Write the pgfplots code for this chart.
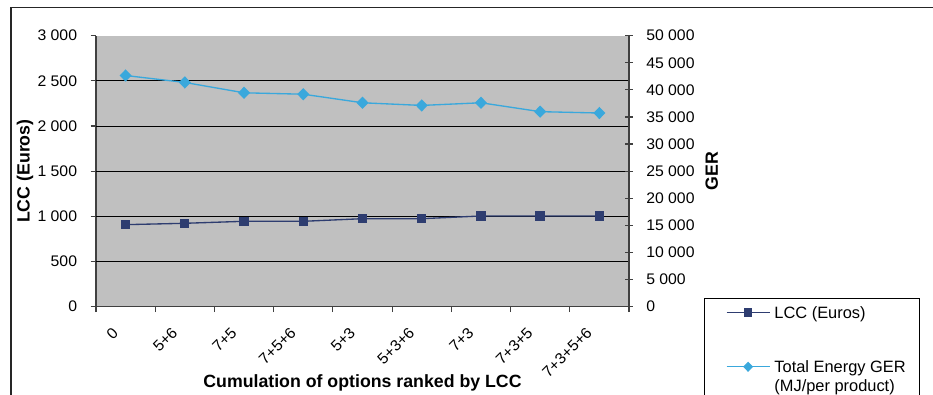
\documentclass[border=0pt]{standalone}
\usepackage{pgfplots}
\pgfplotsset{compat=1.18}
\usepackage{fontspec}
\setmainfont{Liberation Sans}
\newfontfamily\tickfont{Liberation Sans}[FakeStretch=1.03]
\definecolor{plotgray}{HTML}{C0C0C0}
\definecolor{lccblue}{HTML}{2E3D70}
\definecolor{gerblue}{HTML}{3AA8DC}
\definecolor{axgray}{HTML}{404040}
\pgfplotsset{
  lccstyle/.style={color=lccblue, line width=1pt, mark=square*, mark size=3pt, mark options={solid}},
  gerstyle/.style={color=gerblue, line width=1pt, mark=diamond*, mark size=3.9pt, mark options={solid, xscale=1.3}},
  gerlegend/.style={legend image code/.code={\path (-5.5pt,4.3pt) (0pt,-30pt); \draw[mark repeat=2,mark phase=2,##1,line width=0.75pt,mark size=3.3pt] plot coordinates {(0pt,4.3pt) (16.2pt,4.3pt) (32.4pt,4.3pt)};}},
  common/.style={
    at={(0,0)}, anchor=south west,
    width=399.75pt, height=203.25pt, scale only axis,
    xmin=-0.5, xmax=8.5,
    axis line style={color=axgray, line width=1.1pt},
    tick style={color=axgray, line width=0.9pt},
    tick label style={font=\fontsize{11.5}{13.8}\selectfont\tickfont},
    /pgf/number format/.cd, assume math mode=true, 1000 sep={\ },
  }
}
\begin{document}
\begin{tikzpicture}[font=\fontsize{11.5}{13.8}\selectfont]
\useasboundingbox (-72pt,-65.5pt) rectangle (627.75pt,230pt);
\draw[line width=1pt, color=black!85] (-63.75pt,-70pt) -- (-63.75pt,224.55pt) -- (640pt,224.55pt);
\begin{axis}[common,
  ymin=0, ymax=3000,
  axis x line*=bottom, axis y line*=left,
  axis background/.style={fill=plotgray},
  xtick={-0.5,0.5,...,8.5},
  x tick label as interval,
  xticklabels={0,5+6,7+5,7+5+6,5+3,5+3+6,7+3,7+3+5,7+3+5+6},
  x tick label style={xshift=-7.5pt, yshift=-13.5pt, rotate=45, anchor=east, inner sep=0pt},
  xtick align=outside, 
  ytick={0,500,...,3000},
  ytick align=outside,
  major tick length=4pt,
  y tick label style={inner sep=0pt, xshift=-10pt},
  extra y ticks={500,1000,1500,2000,2500},
  extra y tick labels={},
  extra y tick style={ymajorgrids=true, major tick length=0pt, major grid style={black, line width=0.75pt}},
  xlabel={Cumulation of options ranked by LCC},
  ylabel={LCC (Euros)},
  x label style={at={(axis description cs:0.5,-0.2815)}, anchor=center, font=\fontsize{13.3}{16}\selectfont\bfseries},
  y label style={at={(axis description cs:-0.1332,0.5)}, anchor=center, font=\fontsize{13.3}{16}\selectfont\bfseries},
]
\addplot[lccstyle] coordinates {
(0,908) (1,923) (2,945) (3,945) (4,974) (5,974) (6,1004) (7,1004) (8,1004)
};
\end{axis}
\begin{axis}[common,
  ymin=0, ymax=50000,
  axis x line=none, axis y line*=right,
  ytick={0,5000,...,50000},
  ytick align=center,
  major tick length=5.5pt,
  y tick label style={inner sep=0pt, xshift=10pt},
  scaled y ticks=false,
  ylabel={GER},
  y label style={at={(axis description cs:1.1552,0.5)}, anchor=center, font=\fontsize{13.3}{16}\selectfont\bfseries},
  legend image code/.code={\path (-5.5pt,4.3pt); \draw[mark repeat=2,mark phase=2,#1,line width=0.75pt,mark size=2.7pt] plot coordinates {(0pt,4.3pt) (16.2pt,4.3pt) (32.4pt,4.3pt)};},
  legend style={at={(axis description cs:1.1407,0.0314)}, anchor=north west, draw=black, line width=0.8pt, fill=white,
    font=\fontsize{12.3}{14.5}\selectfont, row sep=29pt, column sep=3.2pt, inner xsep=10.5pt, inner ysep=5.8pt,
    nodes={inner sep=0pt}, cells={anchor=base west}},
]
\addlegendimage{lccstyle}
\addlegendentry{LCC (Euros)}
\addplot[gerstyle, gerlegend] coordinates {
(0,42650) (1,41370) (2,39460) (3,39200) (4,37620) (5,37130) (6,37620) (7,35980) (8,35730)
};
\addlegendentry{\begin{tabular}[t]{@{}l@{}}Total Energy GER\\(MJ/per product)\end{tabular}}
\end{axis}
\end{tikzpicture}
\end{document}
